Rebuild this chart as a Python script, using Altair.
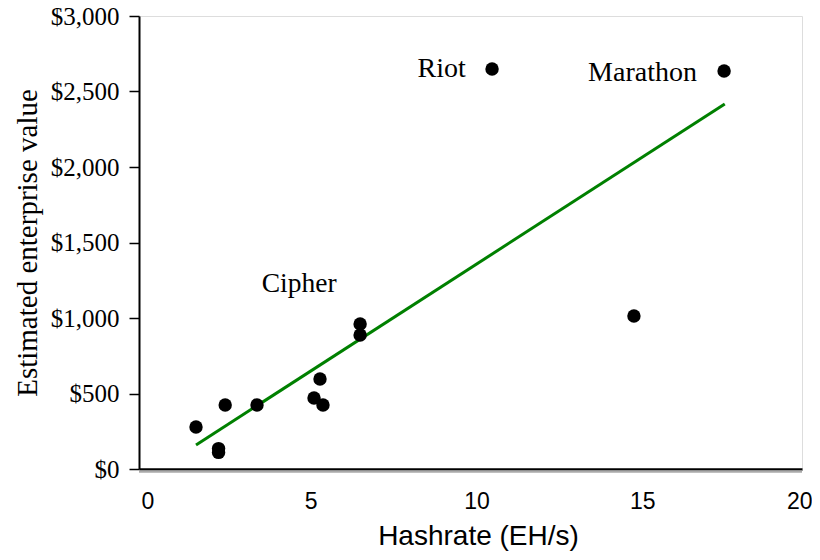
import altair as alt
import pandas as pd

# Data
hashrate = [1.72, 2.4, 2.4, 2.6, 3.56, 5.28, 5.46, 5.55, 6.67, 6.67, 10.65, 17.65, 14.93]
ev = [278, 135, 110, 424, 424, 470, 596, 424, 960, 887, 2649, 2636, 1013]

fit_x = [1.72, 17.67]
fit_y = [159, 2417]

label_text = ["Riot", "Marathon", "Cipher"]
label_x = [9.86, 16.83, 4.83]
label_y = [2649, 2623, 1225]
label_align = ["right", "right", "center"]

pts = pd.DataFrame({"x": hashrate, "y": ev})
fit = pd.DataFrame({"x": fit_x, "y": fit_y})
labs = pd.DataFrame({"x": label_x, "y": label_y, "t": label_text, "a": label_align})

xscale = alt.Scale(domain=[0, 20], nice=False, zero=False)
yscale = alt.Scale(domain=[0, 3000], nice=False)

xaxis = alt.Axis(values=[0, 5, 10, 15, 20], title="Hashrate (EH/s)", grid=False,
                 ticks=False, labelFont="Liberation Sans", labelFontSize=23,
                 labelColor="black", labelPadding=21, labelOffset=6,
                 labelFlush=True, labelFlushOffset=4,
                 titleFont="Liberation Sans", titleFontSize=28, titleFontWeight="normal",
                 titleColor="black", titlePadding=9, titleX=339,
                 domainColor="black", domainWidth=2.5)
yaxis = alt.Axis(values=list(range(0, 3001, 250)), title="Estimated enterprise value",
                 grid=False, tickSize=10, tickColor="black", tickWidth=1.5,
                 labelExpr="datum.value % 500 == 0 ? '$' + format(datum.value, ',') : ''",
                 labelFont="Liberation Serif", labelFontSize=25, labelColor="black",
                 labelPadding=10, titleFont="Liberation Serif", titleFontSize=29,
                 titleFontWeight="normal", titleColor="black", titlePadding=8,
                 domainColor="black", domainWidth=2, labelFlush=False)

shadow = alt.Chart(fit).mark_rule(color="#aaaaaa", strokeWidth=2).encode(
    x=alt.value(0), x2=alt.value(663), y=alt.value(455.5)
)

points = alt.Chart(pts).mark_circle(size=180, color="black", opacity=1).encode(
    x=alt.X("x:Q", scale=xscale, axis=xaxis),
    y=alt.Y("y:Q", scale=yscale, axis=yaxis),
)

line = alt.Chart(fit).mark_line(color="#008000", strokeWidth=3).encode(
    x=alt.X("x:Q", scale=xscale), y=alt.Y("y:Q", scale=yscale)
)

text_r = alt.Chart(labs[labs.a == "right"]).mark_text(
    font="Liberation Serif", fontSize=28, color="black", align="right", baseline="middle"
).encode(x=alt.X("x:Q", scale=xscale), y=alt.Y("y:Q", scale=yscale), text="t:N")

text_c = alt.Chart(labs[labs.a == "center"]).mark_text(
    font="Liberation Serif", fontSize=27.5, color="black", align="center", baseline="middle"
).encode(x=alt.X("x:Q", scale=xscale), y=alt.Y("y:Q", scale=yscale), text="t:N")

chart = alt.layer(shadow, line, points, text_r, text_c).properties(
    width=663, height=453,
    autosize=alt.AutoSizeParams(type="none"),
    padding={"left": 131, "top": 8, "right": 10, "bottom": 83},
).configure_view(stroke="#999999", strokeWidth=1).configure(background="white")

chart.save("out.html", embed_options={"renderer": "svg", "actions": False})
